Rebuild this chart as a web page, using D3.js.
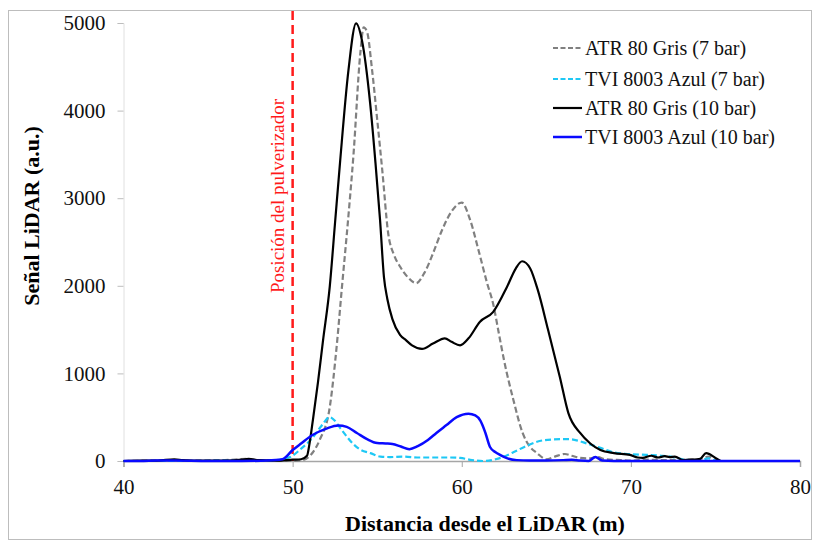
<!DOCTYPE html>
<html><head><meta charset="utf-8">
<script src="https://cdn.jsdelivr.net/npm/d3@7"></script>
<style>body{margin:0;background:#fff}svg{display:block}</style>
</head><body>
<svg id="c" width="814" height="541"></svg>
<script>
const xTicks = [40, 50, 60, 70, 80];
const yTicks = [0, 1000, 2000, 3000, 4000, 5000];
const seriesNames = ["ATR 80 Gris (7 bar)", "TVI 8003 Azul (7 bar)", "ATR 80 Gris (10 bar)", "TVI 8003 Azul (10 bar)"];
const sprayerPos = 50;
const sprayerLabel = "Posición del pulverizador";

const atr7X = [40,42,44,46,47.3,48,49,50,50.6,51.2,51.6,52.2,52.6,52.9,53.3,53.6,54.0,54.2,54.4,54.7,55.0,55.3,55.65,56.0,56.35,56.8,57.3,57.8,58.3,58.8,59.4,60.0,60.5,61.0,61.5,61.85,62.2,62.5,63.05,63.6,64.0,64.45,65.0,65.5,66.1,66.5,67.0,67.5,68.0,68.5,69.4,70,71,72,73,74,74.6,75.0,75.3];
const atr7Y = [0,5,5,10,25,5,0,0,10,100,240,620,1300,1950,2800,3500,4650,4950,4900,4460,3900,3320,2600,2350,2220,2100,2030,2150,2370,2620,2850,2950,2750,2400,2030,1800,1450,1150,700,320,170,90,20,50,80,60,35,30,45,20,10,5,15,10,15,20,50,10,0];

const tvi7X = [40,42,44,46,48,49,49.85,50.5,51.2,51.7,52.2,52.5,52.8,53.2,53.55,54.0,54.6,55.2,55.75,56.5,57.5,58.5,59.3,59.9,60.6,61.3,62.0,62.5,63.05,63.7,64.45,65.3,66.3,66.9,67.4,68.2,68.95,69.8,70.9,71.8,72.5,73.2,74.0,74.6,75.0];
const tvi7Y = [0,0,0,5,5,10,45,140,270,400,500,460,380,280,200,130,90,50,45,50,40,40,40,35,10,0,20,50,100,160,220,245,250,230,200,150,100,80,70,60,45,15,5,30,0];

const atr10X = [40,41,42,43,43.5,44,45,46,47,47.4,48,49,50,50.5,50.85,51.0,51.2,51.5,51.8,52.2,52.5,52.8,53.3,53.75,54.1,54.58,54.9,55.17,55.4,55.6,55.9,56.35,56.7,57.06,57.65,58.3,59.0,59.4,59.9,60.4,61.08,61.85,62.68,63.2,63.57,64.04,64.5,65.1,65.8,66.3,67.0,67.6,68.2,69.0,69.95,70.4,70.7,71.2,71.6,72.0,72.3,72.6,73.1,73.6,74.1,74.45,75.0,75.3];
const atr10Y = [0,5,5,20,10,5,5,5,15,25,10,5,15,20,60,200,470,900,1380,2000,2700,3400,4460,4995,4800,4090,3400,2750,2100,1850,1620,1440,1380,1320,1280,1340,1400,1360,1320,1400,1590,1700,1990,2200,2280,2200,1950,1500,960,550,320,200,125,90,70,40,35,60,40,55,45,50,10,15,25,90,35,0];

const tvi10X = [40,41,42,43,45,47,48.5,49.4,50.0,50.5,51.2,52.0,52.7,53.2,53.8,54.4,55.0,55.5,55.9,56.4,56.9,57.4,58.0,58.5,59.1,59.7,60.4,60.8,61.1,61.4,61.67,62.0,62.26,62.7,63.25,64,65,66,66.5,67.0,67.5,67.9,68.3,69,70,80];
const tvi10Y = [0,0,5,5,0,0,5,20,125,200,300,370,405,390,320,250,205,200,195,165,135,170,240,320,410,500,540,520,460,320,160,100,70,30,10,5,5,10,15,5,0,45,5,0,0,0];

const svg = d3.select("#c");
const x = d3.scaleLinear().domain([40, 80]).range([123.5, 800]);
const y = d3.scaleLinear().domain([0, 5000]).range([461, 23]);
const serif = "'Liberation Serif','Times New Roman',serif";

svg.append("rect").attr("x", 8.5).attr("y", 10.5).attr("width", 803).attr("height", 529)
  .attr("fill", "#fff").attr("stroke", "#bdbdbd").attr("stroke-width", 1);

// y axis
const ya = svg.append("g").attr("transform", `translate(${x(40)},0)`)
  .call(d3.axisLeft(y).tickValues(yTicks).tickSize(6).tickPadding(12).tickFormat(d3.format("d")));
ya.select(".domain").attr("stroke", "#e0e0e0");
ya.selectAll(".tick line").attr("stroke", "#bdbdbd");
ya.selectAll("text").attr("font-family", serif).attr("font-size", 21).attr("fill", "#111");

// x axis
const xa = svg.append("g").attr("transform", `translate(0,${y(0)})`)
  .call(d3.axisBottom(x).tickValues(xTicks).tickSize(6).tickPadding(12).tickFormat(d3.format("d")));
xa.select(".domain").attr("stroke", "#a6a6a6").attr("stroke-width", 1.5);
xa.selectAll(".tick line").attr("stroke", "#a6a6a6");
xa.selectAll("text").attr("font-family", serif).attr("font-size", 21).attr("fill", "#111");

// axis titles
svg.append("text").attr("x", 485).attr("y", 531).attr("text-anchor", "middle")
  .attr("font-family", serif).attr("font-weight", "bold").attr("font-size", 22).attr("fill", "#000")
  .text("Distancia desde el LiDAR (m)");
svg.append("text").attr("transform", "translate(39,216) rotate(-90)").attr("text-anchor", "middle")
  .attr("font-family", serif).attr("font-weight", "bold").attr("font-size", 22).attr("fill", "#000")
  .text("Señal LiDAR (a.u.)");

// sprayer line
svg.append("line").attr("x1", x(sprayerPos)).attr("x2", x(sprayerPos)).attr("y1", 11).attr("y2", y(0))
  .attr("stroke", "#ff1a1a").attr("stroke-width", 2.5).attr("stroke-dasharray", "9,5");
svg.append("text").attr("transform", `translate(${x(sprayerPos) - 9},196) rotate(-90)`).attr("text-anchor", "middle")
  .attr("font-family", serif).attr("font-size", 19).attr("fill", "#ff1a1a").text(sprayerLabel);

const series = [
  {xs: atr7X, ys: atr7Y, color: "#808080", w: 2.2, dash: "6,3"},
  {xs: tvi7X, ys: tvi7Y, color: "#1ec8f5", w: 2.2, dash: "6,3"},
  {xs: atr10X, ys: atr10Y, color: "#000000", w: 2.2, dash: null},
  {xs: tvi10X, ys: tvi10Y, color: "#0a0aff", w: 2.5, dash: null}
];
const line = d3.line().x(d => x(d[0])).y(d => y(d[1])).curve(d3.curveMonotoneX);
series.forEach(s => {
  const pts = s.xs.map((v, i) => [v, s.ys[i]]);
  svg.append("path").attr("d", line(pts)).attr("fill", "none").attr("stroke", s.color)
    .attr("stroke-width", s.w).attr("stroke-dasharray", s.dash).attr("stroke-linejoin", "round");
});

// legend
const legY = [48, 79, 108, 137];
series.forEach((s, i) => {
  svg.append("line").attr("x1", 553).attr("x2", 582).attr("y1", legY[i]).attr("y2", legY[i])
    .attr("stroke", s.color).attr("stroke-width", s.w).attr("stroke-dasharray", s.dash ? "5,2.5" : null);
  svg.append("text").attr("x", 585).attr("y", legY[i] + 6.5).attr("font-family", serif)
    .attr("font-size", 20).attr("fill", "#111").text(seriesNames[i]);
});
</script>
</body></html>
